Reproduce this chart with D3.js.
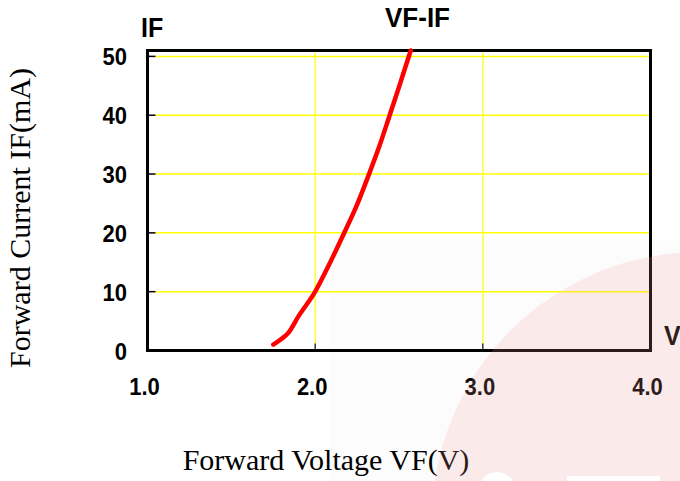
<!DOCTYPE html>
<html>
<head>
<meta charset="utf-8">
<script src="https://cdn.jsdelivr.net/npm/d3@7"></script>
<style>
  html, body { margin: 0; padding: 0; background: #fff; }
  svg { display: block; }
</style>
</head>
<body>
<svg id="chart" width="680" height="481"></svg>
<script>
// ---- data ----
const vf = [1.75, 1.80, 1.84, 1.90, 2.00, 2.09, 2.17, 2.25, 2.32, 2.38, 2.44, 2.50, 2.57];
const ifCurrent = [1.0, 2.0, 3.0, 5.8, 10.0, 15.0, 19.8, 24.8, 29.9, 34.5, 39.6, 44.8, 51.0];
const xTicks = [1.0, 2.0, 3.0, 4.0];
const xTickLabels = ["1.0", "2.0", "3.0", "4.0"];
const yTicks = [0, 10, 20, 30, 40, 50];
const yTickLabels = ["0", "10", "20", "30", "40", "50"];
const chartTitle = "VF-IF";
const xTitle = "Forward Voltage VF(V)";
const yTitle = "Forward Current IF(mA)";

const svg = d3.select("#chart");
const x = d3.scaleLinear().domain([1, 4]).range([147.5, 650.5]);
const y = d3.scaleLinear().domain([0, 51]).range([350.5, 50.5]);

// faint gray background patch
svg.append("rect").attr("x", 329).attr("y", 240).attr("width", 351).attr("height", 241).attr("fill", "#fcfcfc");

// horizontal gridlines
svg.append("g").selectAll("line").data(yTicks.filter(d => d > 0)).join("line")
  .attr("x1", x(1) + 8).attr("x2", x(4))
  .attr("y1", d => y(d)).attr("y2", d => y(d))
  .attr("stroke", "#ffff00").attr("stroke-width", 1.5);
// left inner ticks
svg.append("g").selectAll("line").data(yTicks.filter(d => d > 0)).join("line")
  .attr("x1", x(1)).attr("x2", x(1) + 8)
  .attr("y1", d => y(d)).attr("y2", d => y(d))
  .attr("stroke", "#000").attr("stroke-width", 1.5);
// vertical gridlines
svg.append("g").selectAll("line").data(xTicks.filter(d => d > 1 && d < 4)).join("line")
  .attr("x1", d => x(d)).attr("x2", d => x(d))
  .attr("y1", y(51)).attr("y2", y(0) - 6)
  .attr("stroke", "#ffff00").attr("stroke-width", 1.2);
svg.append("g").selectAll("line").data(xTicks.filter(d => d > 1 && d < 4)).join("line")
  .attr("x1", d => x(d)).attr("x2", d => x(d))
  .attr("y1", y(0) - 7).attr("y2", y(0))
  .attr("stroke", "#000").attr("stroke-width", 1.2);

// frame
svg.append("rect")
  .attr("x", x(1)).attr("y", y(51))
  .attr("width", x(4) - x(1)).attr("height", y(0) - y(51))
  .attr("fill", "none").attr("stroke", "#000").attr("stroke-width", 3);

// curve
const pts = vf.map((v, i) => [v, ifCurrent[i]]);
svg.append("path")
  .datum(pts)
  .attr("d", d3.line().x(d => x(d[0])).y(d => y(d[1])).curve(d3.curveMonotoneX))
  .attr("fill", "none").attr("stroke", "#ff0000").attr("stroke-width", 4.5)
  .attr("stroke-linecap", "round").attr("stroke-linejoin", "round");

const bold = "'Liberation Sans', Arial, sans-serif";
// y tick labels
svg.append("g").selectAll("text").data(yTicks).join("text")
  .attr("transform", d => `translate(127,${y(d) + 9}) scale(1,1.12)`)
  .attr("text-anchor", "end")
  .attr("font-family", bold).attr("font-weight", "bold").attr("font-size", 22)
  .attr("fill", "#000")
  .text((d, i) => yTickLabels[i]);
// x tick labels
svg.append("g").selectAll("text").data(xTicks).join("text")
  .attr("transform", d => `translate(${x(d) - 3},395) scale(1,1.12)`)
  .attr("text-anchor", "middle")
  .attr("font-family", bold).attr("font-weight", "bold").attr("font-size", 22)
  .attr("fill", "#000")
  .text((d, i) => xTickLabels[i]);

// title and unit labels
svg.append("text").attr("transform", "translate(417.5,27) scale(1,1.08)")
  .attr("text-anchor", "middle").attr("font-family", bold).attr("font-weight", "bold")
  .attr("font-size", 26).text(chartTitle);
svg.append("text").attr("transform", "translate(141,37) scale(1,1.08)")
  .attr("font-family", bold).attr("font-weight", "bold").attr("font-size", 25).text("IF");
svg.append("text").attr("transform", "translate(664,345) scale(1,1.08)")
  .attr("font-family", bold).attr("font-weight", "bold").attr("font-size", 25).text("V");

// axis titles
const serif = "'Liberation Serif', 'Times New Roman', serif";
svg.append("text").attr("x", 326).attr("y", 470)
  .attr("text-anchor", "middle").attr("font-family", serif).attr("font-size", 30)
  .attr("fill", "#000").text(xTitle);
svg.append("text").attr("transform", "translate(30,218) rotate(-90)")
  .attr("text-anchor", "middle").attr("font-family", serif).attr("font-size", 30)
  .attr("fill", "#000").text(yTitle);

// watermark overlay
const wm = svg.append("g");
wm.append("circle").attr("cx", 700).attr("cy", 520).attr("r", 268)
  .attr("fill", "#f3a29b").attr("fill-opacity", 0.18);
wm.append("ellipse").attr("cx", 497).attr("cy", 492).attr("rx", 19).attr("ry", 20).attr("fill", "#fff");
wm.append("rect").attr("x", 567).attr("y", 476).attr("width", 93).attr("height", 10).attr("fill", "#fff");
</script>
</body>
</html>
